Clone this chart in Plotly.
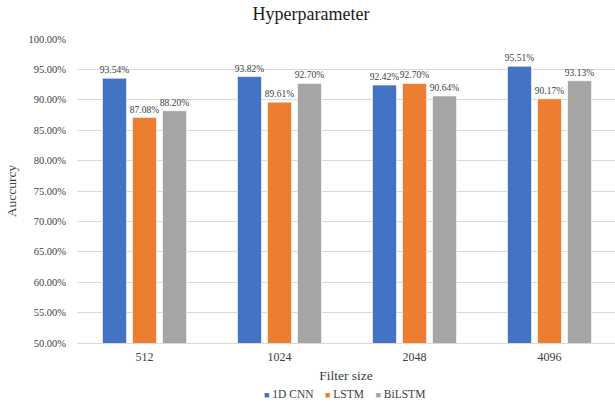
import plotly.graph_objects as go

# Filter size categories and accuracy per model (fractions)
filter_sizes = ["512", "1024", "2048", "4096"]
cnn_1d = [0.9354, 0.9382, 0.9242, 0.9551]
lstm = [0.8708, 0.8961, 0.9270, 0.9017]
bilstm = [0.8820, 0.9270, 0.9064, 0.9313]

y_ticks = [0.50, 0.55, 0.60, 0.65, 0.70, 0.75, 0.80, 0.85, 0.90, 0.95, 1.00]

series = [
    ("1D CNN", cnn_1d, "#4472C4"),
    ("LSTM", lstm, "#ED7D31"),
    ("BiLSTM", bilstm, "#A5A5A5"),
]

FONT = "Liberation Serif, Times New Roman, serif"
TEXT = "#404040"
positions = list(range(len(filter_sizes)))

fig = go.Figure()
for name, vals, color in series:
    fig.add_trace(go.Bar(
        name=name,
        x=positions,
        y=vals,
        base=0,
        marker=dict(color=color, line=dict(color="white", width=0.6)),
        text=[f"{v * 100:.2f}%" for v in vals],
        textposition="outside",
        textfont=dict(family=FONT, size=9.5, color=TEXT),
        constraintext="none",
        cliponaxis=False,
        showlegend=False,
    ))

# Compact legend row: coloured square followed by the series name
nbsp = "\u00a0"
legend_parts = []
for name, _, color in series:
    legend_parts.append(
        f'<span style="color:{color};font-size:9px">■</span>{nbsp}{name}'
    )
legend_text = (nbsp * 4).join(legend_parts)

fig.add_annotation(
    text=legend_text,
    xref="paper", yref="paper",
    x=(344 - 77) / 538, y=-(394 - 343) / 304,
    xanchor="center", yanchor="middle",
    showarrow=False,
    font=dict(family=FONT, size=11.5, color=TEXT),
)

fig.update_layout(
    width=615,
    height=403,
    margin=dict(l=77, r=0, t=39, b=60),
    paper_bgcolor="white",
    plot_bgcolor="white",
    barmode="group",
    bargap=0.333,
    bargroupgap=0.2,
    font=dict(family=FONT, color=TEXT),
    title=dict(
        text="Hyperparameter",
        font=dict(family=FONT, size=18, color="#1a1a1a"),
        x=311 / 615,
        xanchor="center",
        y=1 - 14 / 403,
        yanchor="middle",
    ),
    xaxis=dict(
        tickmode="array",
        tickvals=positions,
        ticktext=filter_sizes,
        range=[-0.5, 3.485],
        showgrid=False,
        showline=True,
        linecolor="#D9D9D9",
        linewidth=1,
        ticks="",
        ticklabelstandoff=3,
        tickfont=dict(family=FONT, size=12, color=TEXT),
        title=dict(text="Filter size", font=dict(family=FONT, size=13.5, color=TEXT), standoff=7),
    ),
    yaxis=dict(
        range=[0.5, 1.0],
        tickmode="array",
        tickvals=y_ticks,
        ticktext=[f"{t * 100:.2f}%" for t in y_ticks],
        showgrid=True,
        gridcolor="#D9D9D9",
        gridwidth=1,
        zeroline=False,
        showline=False,
        ticks="",
        ticklabelstandoff=10,
        tickfont=dict(family=FONT, size=10.5, color=TEXT),
        title=dict(text="Auccurcy", font=dict(family=FONT, size=13.5, color=TEXT), standoff=8),
    ),
)

fig.write_html("out.html")
